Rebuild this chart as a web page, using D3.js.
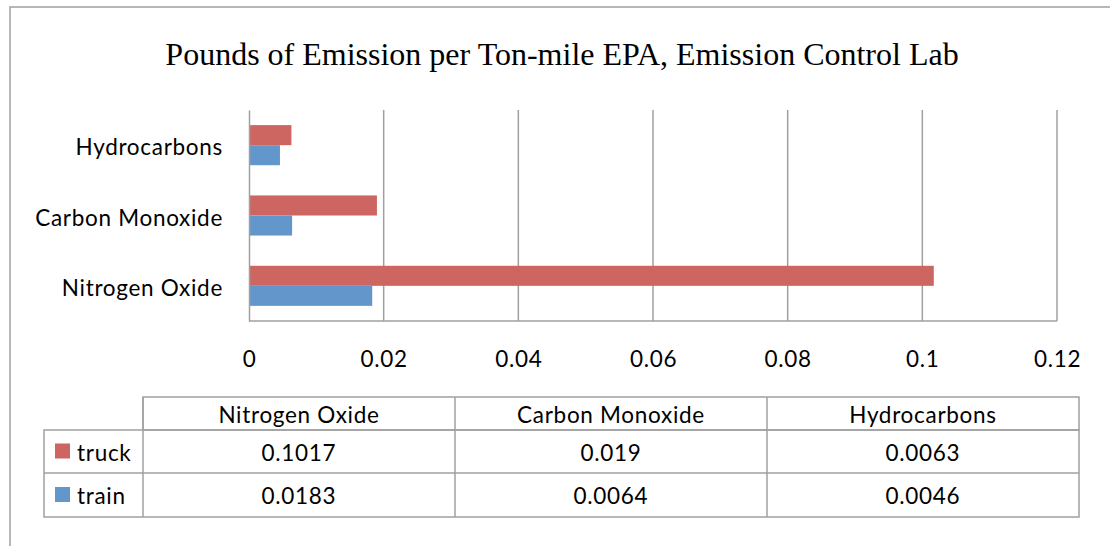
<!DOCTYPE html>
<html>
<head>
<meta charset="utf-8">
<script src="https://cdn.jsdelivr.net/npm/d3@7"></script>
<style>
  body { margin: 0; background: #fff; }
  text { font-family: Lato, "Open Sans", sans-serif; fill: #000; }
  .lbl { font-size: 22.5px; letter-spacing: 0.7px; }
  .title { font-family: "Liberation Serif", "Times New Roman", serif; }
</style>
</head>
<body>
<svg id="chart" width="1110" height="546"></svg>
<script>
// data
var categories = ["Nitrogen Oxide", "Carbon Monoxide", "Hydrocarbons"];
var seriesNames = ["truck", "train"];
var truckValues = [0.1017, 0.019, 0.0063];
var trainValues = [0.0183, 0.0064, 0.0046];
var tickValues = [0, 0.02, 0.04, 0.06, 0.08, 0.1, 0.12];
var colors = ["#cd6661", "#6397cc"];

var svg = d3.select("#chart");
var gridColor = "#a0a0a0";

// outer frame (runs off the right and bottom of the picture)
svg.append("rect")
    .attr("x", 10).attr("y", 7)
    .attr("width", 1120).attr("height", 560)
    .attr("fill", "none").attr("stroke", gridColor).attr("stroke-width", 1.5);

svg.append("text").attr("class", "title")
    .attr("x", 562).attr("y", 65)
    .attr("text-anchor", "middle")
    .style("font-size", "32px")
    .text("Pounds of Emission per Ton-mile EPA, Emission Control Lab");

var plot = {left: 249, right: 1057, top: 110, bottom: 321};

var x = d3.scaleLinear().domain([0, 0.12]).range([plot.left, plot.right]);

// top-to-bottom order is reversed from category order
var y = d3.scaleBand()
    .domain(categories.slice().reverse())
    .range([plot.top, plot.bottom])
    .paddingInner(0.43).paddingOuter(0.215);

var sub = d3.scaleBand().domain(seriesNames).range([0, y.bandwidth()]);

// vertical gridlines
svg.append("g").selectAll("line")
    .data(tickValues.slice(1))
    .join("line")
    .attr("x1", function(d) { return x(d); })
    .attr("x2", function(d) { return x(d); })
    .attr("y1", plot.top).attr("y2", plot.bottom)
    .attr("stroke", gridColor).attr("stroke-width", 1.5);

// bars
var rows = categories.map(function(c, i) {
    return {cat: c, vals: [truckValues[i], trainValues[i]]};
});
var groups = svg.append("g").selectAll("g")
    .data(rows)
    .join("g")
    .attr("transform", function(d) { return "translate(0," + y(d.cat) + ")"; });

groups.selectAll("rect")
    .data(function(d) { return d.vals.map(function(v, j) { return {s: seriesNames[j], v: v, j: j}; }); })
    .join("rect")
    .attr("x", x(0))
    .attr("y", function(d) { return sub(d.s); })
    .attr("width", function(d) { return x(d.v) - x(0); })
    .attr("height", sub.bandwidth())
    .attr("fill", function(d) { return colors[d.j]; });

// axes
var yAxis = svg.append("g")
    .attr("transform", "translate(" + plot.left + ",0)")
    .call(d3.axisLeft(y).tickSize(0).tickPadding(26));
yAxis.select(".domain").attr("stroke", gridColor).attr("stroke-width", 1.5);
yAxis.selectAll("text").attr("class", "lbl").attr("font-size", null).attr("font-family", null).attr("dy", "0.45em");

var xAxis = svg.append("g")
    .attr("transform", "translate(0," + plot.bottom + ")")
    .call(d3.axisBottom(x).tickValues(tickValues).tickSize(0).tickPadding(30)
        .tickFormat(function(d) { return String(+d.toFixed(2)); }));
xAxis.select(".domain").remove();
xAxis.selectAll("text").attr("class", "lbl").attr("font-size", null).attr("font-family", null);
svg.append("line")
    .attr("x1", plot.left).attr("x2", plot.right)
    .attr("y1", plot.bottom).attr("y2", plot.bottom)
    .attr("stroke", gridColor).attr("stroke-width", 1.5);

// data table
var tbl = {left: 44, keyRight: 143, right: 1079, top: 397, head: 430, rows: [430, 473, 517]};
var col = d3.scaleBand().domain(categories).range([tbl.keyRight, tbl.right]);
var tableValues = [truckValues, trainValues];

var t = svg.append("g").attr("fill", "none").attr("stroke", gridColor).attr("stroke-width", 1.5);
// header box
t.append("rect").attr("x", tbl.keyRight).attr("y", tbl.top)
    .attr("width", tbl.right - tbl.keyRight).attr("height", tbl.head - tbl.top);
// body box
t.append("rect").attr("x", tbl.left).attr("y", tbl.rows[0])
    .attr("width", tbl.right - tbl.left).attr("height", tbl.rows[2] - tbl.rows[0]);
t.append("line").attr("x1", tbl.left).attr("x2", tbl.right)
    .attr("y1", tbl.rows[1]).attr("y2", tbl.rows[1]);
t.selectAll(".vsep")
    .data(categories)
    .join("line")
    .attr("x1", function(d) { return col(d); })
    .attr("x2", function(d) { return col(d); })
    .attr("y1", tbl.top).attr("y2", tbl.rows[2]);

svg.append("g").selectAll("text")
    .data(categories)
    .join("text")
    .attr("class", "lbl")
    .attr("x", function(d) { return col(d) + col.bandwidth() / 2; })
    .attr("y", (tbl.top + tbl.head) / 2)
    .attr("dy", "0.42em")
    .attr("text-anchor", "middle")
    .text(function(d) { return d; });

seriesNames.forEach(function(s, i) {
    var yMid = (tbl.rows[i] + tbl.rows[i + 1]) / 2;
    svg.append("rect")
        .attr("x", 55).attr("y", yMid - 8)
        .attr("width", 15).attr("height", 15)
        .attr("fill", colors[i]);
    svg.append("text")
        .attr("class", "lbl")
        .attr("x", 77).attr("y", yMid).attr("dy", "0.42em")
        .text(s);
    svg.append("g").selectAll("text")
        .data(categories)
        .join("text")
        .attr("class", "lbl")
        .attr("x", function(d) { return col(d) + col.bandwidth() / 2; })
        .attr("y", yMid).attr("dy", "0.42em")
        .attr("text-anchor", "middle")
        .text(function(d, j) { return tableValues[i][j]; });
});
</script>
</body>
</html>
